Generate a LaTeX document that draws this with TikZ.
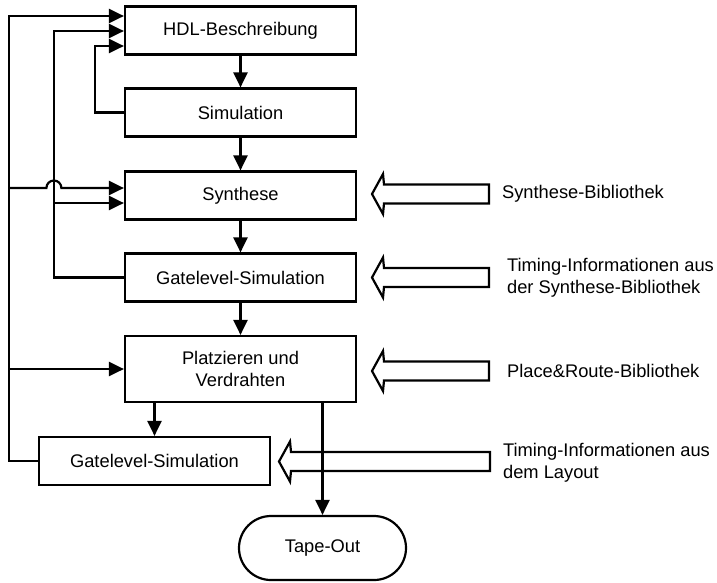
\documentclass[tikz,border=0pt]{standalone}
\usepackage{fontspec}
\setmainfont{Liberation Sans}
\usetikzlibrary{arrows.meta,calc}

% hollow library arrow: tip x, centre y, tail x
\newcommand\libarrow[3]{%
  \draw[libshape] (#1,#2) -- ++(11,20) -- ++(1,-10.5) -- (#3,#2+9.5)
    -- (#3,#2-9.5) -- (#1+12,#2-9.5) -- ++(-1,-10.5) -- cycle;}

\begin{document}
\begin{tikzpicture}[x=1pt,y=1pt,
  line width=2.2pt,
  every node/.style={font=\fontsize{18.3}{22}\selectfont},
  box/.style={draw, minimum width=231pt, minimum height=48pt, inner sep=0pt, align=center},
  flow/.style={-{Triangle[length=15pt,width=14pt]}},
  libshape/.style={draw, fill=white, line join=miter},
  lbl/.style={anchor=west, inner sep=0pt, align=left}]
\useasboundingbox (0,0) rectangle (717,-582);

% process steps
\node[box] (hdl) at (240.5,-30.5) {HDL-Beschreibung};
\node[box] (sim) at (240.5,-112.5) {Simulation};
\node[box] (syn) at (240.5,-195.5) {Synthese};
\node[box] (gl1) at (240.5,-277.5) {Gatelevel-Simulation};
\node[box, minimum height=66pt] (pr) at (240.5,-369) {Platzieren und\\Verdrahten};
\node[box] (gl2) at (154.5,-461) {Gatelevel-Simulation};
\node[draw, minimum width=167pt, minimum height=64pt, rounded corners=32pt] (tape) at (322.5,-548) {Tape-Out};

% library inputs
\libarrow{372}{-194}{489}
\libarrow{372}{-277.5}{489}
\libarrow{372}{-371}{489}
\libarrow{279}{-461.5}{490}
\node[lbl] (l1) at (501,-194) {Synthese-Bibliothek};
\node[lbl] (l2) at (506,-278) {Timing-Informationen aus\\der Synthese-Bibliothek};
\node[lbl] (l3) at (506,-371) {Place\&Route-Bibliothek};
\node[lbl] (l4) at (502,-463) {Timing-Informationen aus\\dem Layout};

% entry points on the left side
\coordinate (inA) at ($(hdl.west)+(0,14.5)$);
\coordinate (inB) at ($(hdl.west)+(0,-0.5)$);
\coordinate (inC) at ($(hdl.west)+(0,-15.5)$);
\coordinate (synA) at ($(syn.west)+(0,7.5)$);
\coordinate (synB) at ($(syn.west)+(0,-7.5)$);

% main flow
\draw[flow] (hdl) -- (sim);
\draw[flow] (sim) -- (syn);
\draw[flow] (syn) -- (gl1);
\draw[flow] (gl1) -- (pr);
\draw[flow] (pr.south -| gl2.north) -- (gl2.north);
\draw[flow] (pr.south -| tape.north) -- (tape.north);

% feedback loops
\draw[flow] (sim.west) -- ++(-29,0) |- (inC);
\draw[flow] (gl1.west) -- ++(-70,0) coordinate (mid) |- (inB);
\draw[flow] (synB -| mid) -- (synB);
\draw[flow] (gl2.west) -- ++(-29,0) coordinate (out) |- (inA);
\draw[flow] (synA -| out) -- ($(synA -| mid)+(-7.5,0)$) arc (180:0:7.5) -- (synA);
\draw[flow] (pr.west -| out) -- (pr.west);
\end{tikzpicture}
\end{document}
